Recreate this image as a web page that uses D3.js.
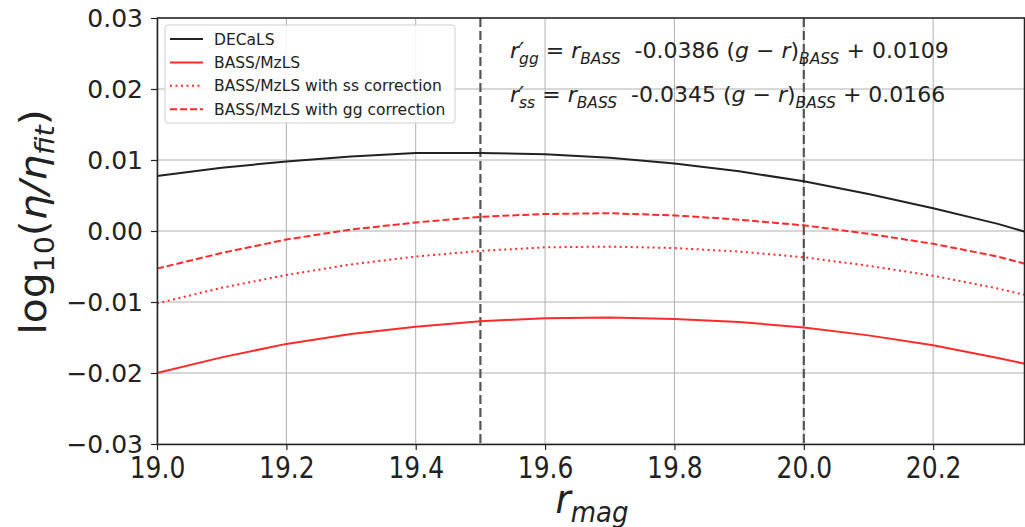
<!DOCTYPE html>
<meta charset="utf-8">
<head>
<style>
  body { margin: 0; background: #fff; }
  text { font-family: "DejaVu Sans", sans-serif; fill: #222; }
  .grid line { stroke: #b0b0b0; stroke-width: 1; }
</style>
</head>
<body>
<script src="https://d3js.org/d3.v7.min.js"></script>
<script>
var rmag = [19.0, 19.1, 19.2, 19.3, 19.4, 19.5, 19.6, 19.7, 19.8, 19.9, 20.0, 20.1, 20.2, 20.3, 20.342];
var decals = [0.00775, 0.0089, 0.0098, 0.0105, 0.0110, 0.0110, 0.0108, 0.0103, 0.0095, 0.0084, 0.0070, 0.0052, 0.0032, 0.0010, -0.0001];
var bass = [-0.0200, -0.0178, -0.0159, -0.0145, -0.0135, -0.0127, -0.0123, -0.0122, -0.0124, -0.0128, -0.0136, -0.0147, -0.0161, -0.0179, -0.0187];
var bassSS = [-0.0102, -0.0080, -0.0062, -0.0047, -0.0036, -0.0028, -0.0023, -0.0022, -0.0024, -0.0029, -0.0037, -0.0049, -0.0063, -0.0081, -0.0090];
var bassGG = [-0.0053, -0.0031, -0.0012, 0.0002, 0.0012, 0.0020, 0.0024, 0.0025, 0.0022, 0.0016, 0.0008, -0.0004, -0.0018, -0.0036, -0.0046];
var xTicks = [19.0, 19.2, 19.4, 19.6, 19.8, 20.0, 20.2];
var yTicks = [-0.03, -0.02, -0.01, 0.00, 0.01, 0.02, 0.03];
var vlines = [19.5, 20.0];

var series = [
  {name: "DECaLS", values: decals, color: "#222", dash: null},
  {name: "BASS/MzLS", values: bass, color: "#ff2a2a", dash: null},
  {name: "BASS/MzLS with ss correction", values: bassSS, color: "#ff2a2a", dash: "2,3.5"},
  {name: "BASS/MzLS with gg correction", values: bassGG, color: "#ff2a2a", dash: "7,3"}
];

var W = 1025, H = 527;
var mLeft = 157, mRight = 1025, mTop = 18, mBottom = 444;

var svg = d3.select("body").append("svg").attr("width", W).attr("height", H);

var x = d3.scaleLinear().domain([19.0, 20.342]).range([mLeft, mRight]);
var y = d3.scaleLinear().domain([-0.03, 0.03]).range([mBottom, mTop]);

// grid
var g = svg.append("g").attr("class", "grid");
g.selectAll(".gx").data(xTicks).enter().append("line")
  .attr("x1", d => x(d)).attr("x2", d => x(d)).attr("y1", mTop).attr("y2", mBottom);
g.selectAll(".gy").data(yTicks).enter().append("line")
  .attr("x1", mLeft).attr("x2", mRight).attr("y1", d => y(d)).attr("y2", d => y(d));

// vertical dashed lines
svg.selectAll(".vl").data(vlines).enter().append("line")
  .attr("x1", d => x(d)).attr("x2", d => x(d)).attr("y1", mTop).attr("y2", mBottom)
  .attr("stroke", "#555").attr("stroke-width", 2.2).attr("stroke-dasharray", "9,4");

// curves
var line = d3.line().x((d, i) => x(rmag[i])).y(d => y(d));
series.forEach(function(s) {
  svg.append("path").datum(s.values)
    .attr("d", line)
    .attr("fill", "none")
    .attr("stroke", s.color)
    .attr("stroke-width", 2)
    .attr("stroke-dasharray", s.dash);
});

// axes
var xAxis = d3.axisBottom(x).tickValues(xTicks).tickFormat(d3.format(".1f")).tickSize(6).tickSizeOuter(0);
var yAxis = d3.axisLeft(y).tickValues(yTicks).tickFormat(function(d) {
  var s = d3.format(".2f")(Math.abs(d));
  return d < 0 ? "\u2212" + s : s;
}).tickSize(6).tickSizeOuter(0);

var gx = svg.append("g").attr("transform", "translate(0," + mBottom + ")").call(xAxis);
var gy = svg.append("g").attr("transform", "translate(" + mLeft + ",0)").call(yAxis);
[gx, gy].forEach(function(a) {
  a.select(".domain").attr("stroke", "#222").attr("stroke-width", 1.5);
  a.selectAll(".tick line").attr("stroke", "#222").attr("stroke-width", 1.2);
  a.selectAll("text").style("font-size", "25px").attr("fill", "#222");
});
gx.selectAll("text").attr("y", 0).attr("dy", 0)
  .attr("transform", "translate(0,34) scale(1,1.18)");
gy.selectAll("text").attr("x", -14);

// top / right spine
svg.append("line").attr("x1", mLeft).attr("x2", mRight).attr("y1", mTop).attr("y2", mTop)
  .attr("stroke", "#222").attr("stroke-width", 1.5);
svg.append("line").attr("x1", mRight - 0.5).attr("x2", mRight - 0.5).attr("y1", mTop).attr("y2", mBottom)
  .attr("stroke", "#222").attr("stroke-width", 1.5);

// axis labels
var xl = svg.append("text").attr("transform", "translate(592,513) scale(1,1.1)").attr("text-anchor", "middle")
  .style("font-size", "37px").style("font-style", "italic");
xl.append("tspan").text("r");
xl.append("tspan").text("mag").attr("dy", 8).style("font-size", "26px");

var yl = svg.append("text").attr("transform", "translate(46,222) rotate(-90) scale(1.1,1)")
  .attr("text-anchor", "middle").style("font-size", "37px");
yl.append("tspan").text("log");
yl.append("tspan").text("10").attr("dy", 8).style("font-size", "26px");
yl.append("tspan").text("(").attr("dy", -8);
yl.append("tspan").text("\u03b7/\u03b7").style("font-style", "italic");
yl.append("tspan").text("fit").attr("dy", 8).style("font-size", "26px").style("font-style", "italic");
yl.append("tspan").text(")").attr("dy", -8);

// legend
var lg = svg.append("g");
lg.append("rect").attr("x", 165).attr("y", 25).attr("width", 290).attr("height", 98)
  .attr("rx", 3).attr("fill", "#fff").attr("fill-opacity", 0.85).attr("stroke", "#d0d0d0");
series.forEach(function(s, i) {
  var yy = 39 + i * 23.4;
  lg.append("line").attr("x1", 170).attr("x2", 203).attr("y1", yy).attr("y2", yy)
    .attr("stroke", s.color).attr("stroke-width", 2).attr("stroke-dasharray", s.dash);
  lg.append("text").attr("x", 214).attr("y", yy + 5.5).text(s.name).style("font-size", "15.5px");
});

// equations
var eqs = [
  {sub: "gg", a: "-0.0386", b: "0.0109", y: 58},
  {sub: "ss", a: "-0.0345", b: "0.0166", y: 102}
];
eqs.forEach(function(e) {
  var t = svg.append("text").attr("x", 510).attr("y", e.y).style("font-size", "22px");
  t.append("tspan").text("r\u2032").style("font-style", "italic");
  t.append("tspan").text(e.sub).attr("dy", 6).attr("dx", -5).style("font-size", "15.5px").style("font-style", "italic");
  t.append("tspan").text(" = ").attr("dy", -6);
  t.append("tspan").text("r").style("font-style", "italic");
  t.append("tspan").text("BASS").attr("dy", 6).style("font-size", "15.5px").style("font-style", "italic");
  t.append("tspan").text("\u00a0\u00a0" + e.a + " (").attr("dy", -6);
  t.append("tspan").text("g").style("font-style", "italic");
  t.append("tspan").text(" \u2212 ");
  t.append("tspan").text("r").style("font-style", "italic");
  t.append("tspan").text(")");
  t.append("tspan").text("BASS").attr("dy", 6).style("font-size", "15.5px").style("font-style", "italic");
  t.append("tspan").text(" + " + e.b).attr("dy", -6);
});
</script>
</body>
